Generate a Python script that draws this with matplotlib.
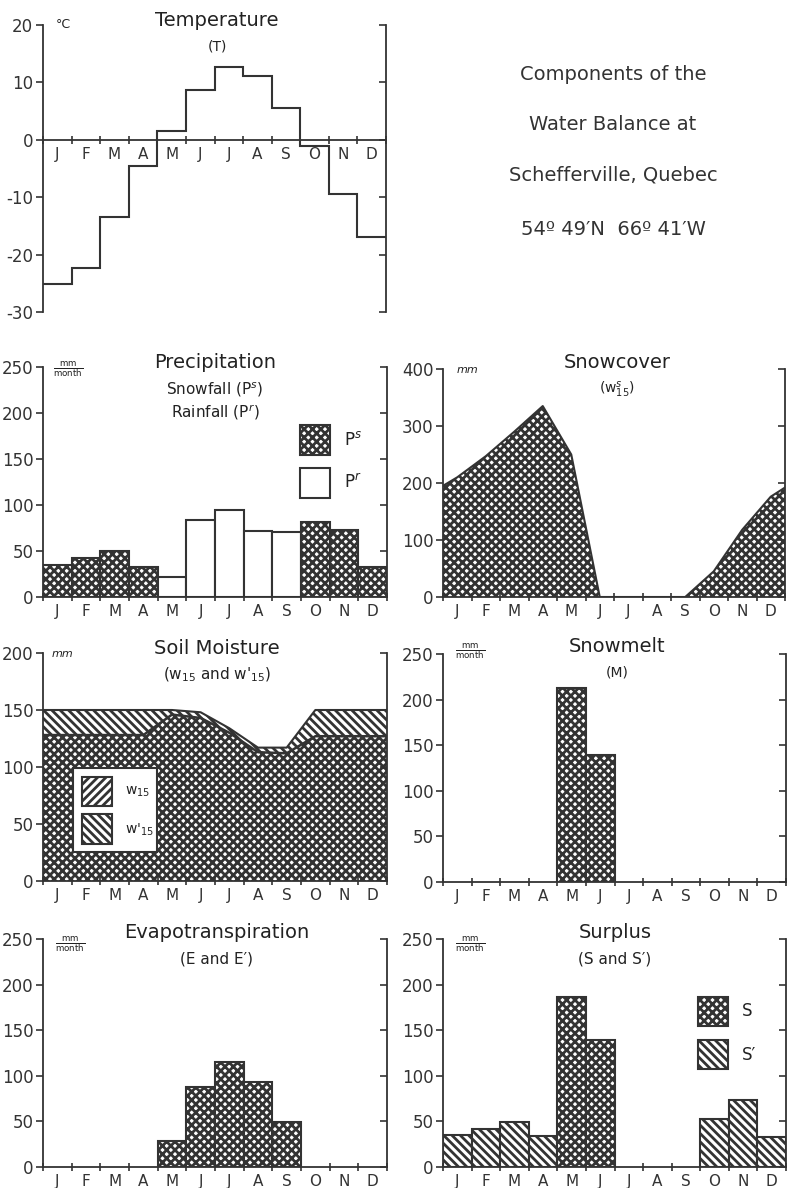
import numpy as np
import matplotlib.pyplot as plt
from matplotlib.patches import Rectangle

plt.rcParams.update({'font.family': 'DejaVu Sans', 'hatch.linewidth': 2.0,
                     'axes.unicode_minus': False,
                     'text.color': '#222222', 'axes.edgecolor': '#333333',
                     'xtick.color': '#333333', 'ytick.color': '#333333'})

W, H = 787, 1188
INK = '#333333'

# データ（月ごと）
months = ['J', 'F', 'M', 'A', 'M', 'J', 'J', 'A', 'S', 'O', 'N', 'D']
temp = [-25.2, -22.4, -13.4, -4.6, 1.5, 8.7, 12.7, 11.1, 5.5, -1.1, -9.4, -17.0]
precip = [35, 42, 50, 33, 22, 84, 95, 72, 71, 81, 73, 33]
precip_kind = ['s', 's', 's', 's', 'r', 'r', 'r', 'r', 'r', 's', 's', 's']
snow_jan1 = 195
snowcover = [210, 247, 290, 335, 250, 0, 0, 0, 0, 45, 118, 176]
snow_dec31 = 192
soil_low = [128, 128, 128, 128, 146, 143, 130, 113, 112, 127, 127, 127]
soil_high = [150, 150, 150, 150, 150, 148, 134, 117, 117, 150, 150, 150]
snowmelt = [0, 0, 0, 0, 213, 139, 0, 0, 0, 0, 0, 0]
evap = [0, 0, 0, 0, 29, 88, 115, 93, 49, 0, 0, 0]
surplus = [35, 42, 49, 34, 186, 139, 0, 0, 0, 53, 73, 33]
surplus_kind = ["S'", "S'", "S'", "S'", 'S', 'S', 'S', 'S', 'S', "S'", "S'", "S'"]

XH = 'x' * 4        # 網掛け
BH = '\\' * 4       # 斜線
FH = '/' * 4

fig = plt.figure(figsize=(W / 100, H / 100), dpi=100)


def ftext(x, y, s, **kw):
    kw.setdefault('ha', 'center')
    kw.setdefault('va', 'center')
    fig.text(x / W, 1 - y / H, s, **kw)


def fbox(x0, y0, x1, y1, hatch=None, zorder=5):
    fig.patches.append(Rectangle((x0 / W, 1 - y1 / H), (x1 - x0) / W, (y1 - y0) / H,
                                 transform=fig.transFigure, facecolor='white',
                                 edgecolor=INK, lw=1.5, hatch=hatch, zorder=zorder))


def panel(l, t, r, b, ylo, yhi, step, zero_axis=False):
    ax = fig.add_axes([l / W, 1 - b / H, (r - l) / W, (b - t) / H])
    ax.set_xlim(0, 12)
    ax.set_ylim(ylo, yhi)
    ax.set_yticks(np.arange(ylo, yhi + 1, step))
    ax.spines['top'].set_visible(False)
    for s in ax.spines.values():
        s.set_linewidth(1.3)
    if zero_axis:
        ax.spines['bottom'].set_position(('data', 0))
    ax.set_xticks(np.arange(12) + 0.5)
    ax.set_xticklabels(months, fontsize=11)
    ax.set_xticks(np.arange(13), minor=True)
    ax.tick_params(axis='x', which='major', length=0, pad=5)
    ax.tick_params(axis='x', which='minor', length=6, direction='inout', width=1.2)
    ax.tick_params(axis='y', labelsize=12, length=5, width=1.2, pad=2)
    # 右側の目盛り（内向き）
    tw = ax.twinx()
    tw.set_ylim(ylo, yhi)
    tw.set_yticks(np.arange(ylo, yhi + 1, step))
    tw.tick_params(axis='y', direction='in', length=5, width=1.2, labelright=False)
    for s in tw.spines.values():
        s.set_visible(False)
    return ax


x = np.arange(12) + 0.5

# 気温
ax = panel(43, 25, 386, 312, -30, 20, 10, zero_axis=True)
ax.stairs(temp, np.arange(13), baseline=None, color=INK, lw=1.5)
ftext(217, 20, 'Temperature', fontsize=14)
ftext(217, 46, '(T)', fontsize=10)
ftext(63, 25, '°C', fontsize=9)

# タイトル文
for yy, s in [(75, 'Components of the'), (125, 'Water Balance at'),
              (175, 'Schefferville, Quebec'), (230, '54º 49′N  66º 41′W')]:
    ftext(613, yy, s, fontsize=14, color='#333333')

# 降水量
ax = panel(43, 367, 387, 597, 0, 250, 50)
for i, v in enumerate(precip):
    ax.bar(x[i], v, width=1, facecolor='white', edgecolor=INK, lw=1.5,
           hatch=XH if precip_kind[i] == 's' else None)
ftext(215, 362, 'Precipitation', fontsize=14)
ftext(215, 390, 'Snowfall (P$^s$)', fontsize=11)
ftext(215, 412, 'Rainfall (P$^r$)', fontsize=11)
ftext(68, 370, r'$\frac{\mathrm{mm}}{\mathrm{month}}$', fontsize=9)
fbox(300, 425, 330, 455, hatch=XH)
fbox(300, 468, 330, 498)
ftext(344, 440, 'P$^s$', fontsize=12, ha='left')
ftext(344, 483, 'P$^r$', fontsize=12, ha='left')

# 積雪
ax = panel(443, 369, 785, 597, 0, 400, 100)
sx = np.r_[0, x, 12]
sy = np.r_[snow_jan1, snowcover, snow_dec31]
ax.fill_between(sx, 0, sy, facecolor='white', edgecolor=INK, hatch=XH, lw=0)
ax.plot(sx, sy, color=INK, lw=1.5)
ftext(617, 362, 'Snowcover', fontsize=14)
ftext(617, 390, '(w$^s_{15}$)', fontsize=10)
ftext(467, 370, 'mm', fontsize=8, style='italic')

# 土壌水分
ax = panel(43, 653, 387, 881, 0, 200, 50)
mx = np.r_[0, x, 12]
lo = np.r_[soil_low[0], soil_low, soil_low[-1]]
hi = np.r_[soil_high[0], soil_high, soil_high[-1]]
ax.fill_between(mx, 0, lo, facecolor='white', edgecolor=INK, hatch=XH, lw=0)
ax.fill_between(mx, lo, hi, facecolor='white', edgecolor=INK, hatch=BH, lw=0)
ax.plot(mx, lo, color=INK, lw=1.8)
ax.plot(mx, hi, color=INK, lw=1.5)
ftext(217, 648, 'Soil Moisture', fontsize=14)
ftext(217, 675, '(w$_{15}$ and w$\'_{15}$)', fontsize=11)
ftext(62, 654, 'mm', fontsize=8, style='italic')
fbox(73, 768, 157, 852)
fbox(82, 777, 112, 806, hatch=FH, zorder=6)
fbox(82, 814, 112, 844, hatch=BH, zorder=6)
ftext(125, 792, 'w$_{15}$', fontsize=10, ha='left', zorder=7)
ftext(125, 830, 'w$\'_{15}$', fontsize=10, ha='left', zorder=7)

# 融雪
ax = panel(443, 654, 786, 882, 0, 250, 50)
for i, v in enumerate(snowmelt):
    if v > 0:
        ax.bar(x[i], v, width=1, facecolor='white', edgecolor=INK, lw=1.5, hatch=XH)
ftext(617, 646, 'Snowmelt', fontsize=14)
ftext(617, 673, '(M)', fontsize=10)
ftext(470, 652, r'$\frac{\mathrm{mm}}{\mathrm{month}}$', fontsize=9)

# 蒸発散
ax = panel(43, 939, 387, 1167, 0, 250, 50)
for i, v in enumerate(evap):
    if v > 0:
        ax.bar(x[i], v, width=1, facecolor='white', edgecolor=INK, lw=1.5, hatch=XH)
ftext(217, 933, 'Evapotranspiration', fontsize=14)
ftext(217, 959, '(E and E′)', fontsize=11)
ftext(70, 945, r'$\frac{\mathrm{mm}}{\mathrm{month}}$', fontsize=9)

# 余剰水
ax = panel(443, 939, 786, 1167, 0, 250, 50)
for i, v in enumerate(surplus):
    if v > 0:
        ax.bar(x[i], v, width=1, facecolor='white', edgecolor=INK, lw=1.5,
               hatch=XH if surplus_kind[i] == 'S' else BH)
ftext(615, 933, 'Surplus', fontsize=14)
ftext(615, 959, '(S and S′)', fontsize=11)
ftext(470, 945, r'$\frac{\mathrm{mm}}{\mathrm{month}}$', fontsize=9)
fbox(698, 997, 728, 1026, hatch=XH)
fbox(698, 1040, 728, 1069, hatch=BH)
ftext(742, 1011, 'S', fontsize=12, ha='left')
ftext(742, 1055, 'S′', fontsize=12, ha='left')

plt.savefig('out.png', dpi=100)
